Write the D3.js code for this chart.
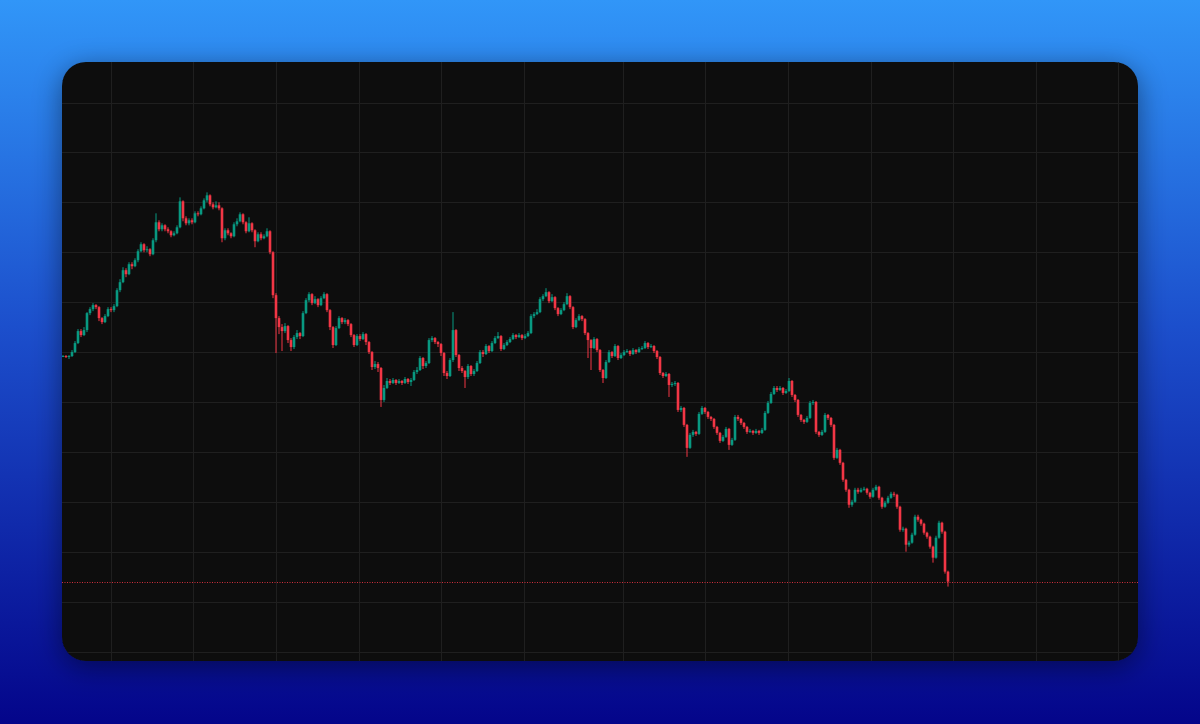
<!DOCTYPE html>
<html>
<head>
<meta charset="utf-8">
<script src="https://cdn.jsdelivr.net/npm/d3@7"></script>
<style>
  html, body { margin: 0; padding: 0; width: 1200px; height: 724px; overflow: hidden; }
  svg { display: block; }
</style>
</head>
<body>
<svg id="chart" width="1200" height="724"></svg>
<script>
// ---- data (arbitrary price units) ----
const opens = [69.6,69.6,69.5,69.6,70.0,70.9,72.1,71.7,72.2,73.9,74.3,74.7,74.5,73.4,73.0,73.6,74.3,74.2,74.6,76.2,77.0,78.2,77.8,78.8,78.6,79.2,80.1,80.8,80.2,80.3,79.8,81.2,83.0,82.3,82.7,82.3,82.1,81.7,81.9,82.5,85.1,83.4,82.9,83.2,83.0,83.9,83.8,84.4,85.2,85.7,84.8,84.5,84.7,84.4,81.4,82.2,81.9,81.6,82.8,83.1,83.8,83.0,82.1,82.9,82.2,81.1,81.8,81.4,81.6,82.1,80.0,75.7,73.4,72.5,72.1,72.6,71.2,70.5,71.5,71.9,71.6,73.9,75.2,75.8,74.9,75.3,74.7,75.4,75.8,74.2,72.5,70.7,72.4,73.4,73.0,73.2,72.8,71.7,70.7,71.6,71.3,71.8,71.0,70.0,68.5,68.8,68.4,65.2,66.4,67.1,66.9,67.2,66.9,67.1,66.9,67.3,67.0,67.2,68.0,68.2,69.4,68.6,68.9,71.2,71.4,71.0,70.8,69.9,67.9,67.6,69.2,72.2,69.7,68.4,68.1,67.5,68.6,67.8,68.1,68.9,70.0,69.8,70.6,70.1,70.9,71.4,71.6,70.3,70.7,71.0,71.3,71.7,71.5,71.7,71.4,71.6,71.9,73.6,73.8,74.0,75.3,75.6,76.0,75.1,75.5,74.4,73.8,74.2,74.8,75.6,74.5,72.5,73.2,73.6,73.3,71.9,71.2,70.4,71.3,70.2,68.2,67.4,69.0,70.0,69.6,70.6,69.4,69.7,70.0,70.1,69.8,70.2,70.0,70.3,70.4,70.9,70.5,70.6,70.1,69.5,67.9,67.6,67.8,66.7,66.8,66.9,64.2,64.4,62.7,60.4,61.7,62.0,61.8,63.8,64.4,64.0,63.5,63.3,62.5,61.9,61.1,61.5,62.3,60.7,61.2,63.5,63.3,62.9,62.5,62.0,62.1,61.9,62.1,61.9,62.2,63.9,64.9,65.8,66.4,66.2,66.4,65.9,66.1,67.1,65.7,65.2,63.7,63.2,63.0,63.4,64.9,65.0,62.0,61.7,62.0,63.7,63.4,62.7,59.4,60.2,58.9,57.2,56.2,54.7,55.0,56.2,56.0,56.2,56.3,55.9,55.5,56.2,56.5,55.4,54.5,54.9,55.4,55.8,55.7,54.5,52.2,52.3,50.7,50.9,51.7,53.5,53.2,52.8,51.9,51.5,50.5,49.4,51.4,52.9,52.0,48.0];
const highs = [69.7,69.7,69.7,70.2,71.1,72.3,72.3,72.5,74.0,74.5,74.9,74.8,74.6,73.5,73.8,74.5,74.5,74.8,76.4,77.3,78.5,78.4,79.0,79.0,79.4,80.3,81.0,80.9,80.6,80.4,81.4,83.9,83.2,82.9,82.8,82.5,82.2,82.1,82.7,85.5,85.2,83.6,83.4,83.4,84.1,84.1,84.6,85.4,86.0,85.8,85.0,85.1,85.0,84.5,82.4,82.4,82.0,83.0,83.4,84.0,83.9,83.1,83.5,83.0,82.3,82.0,82.0,81.8,82.4,82.2,80.1,75.9,73.6,72.8,72.9,72.7,71.4,71.7,72.2,72.0,74.1,75.4,76.0,75.9,75.6,75.4,75.6,76.0,75.9,74.3,72.6,72.6,73.6,73.5,73.4,73.3,72.9,71.8,71.8,71.8,72.0,71.9,71.1,70.1,69.1,69.0,68.5,66.7,67.4,67.3,67.4,67.3,67.3,67.2,67.5,67.4,67.4,68.2,68.5,69.6,69.5,69.1,71.4,71.6,71.5,71.1,70.9,70.0,68.1,69.4,74.0,72.3,69.8,68.6,68.2,68.8,68.7,68.3,69.1,70.2,70.2,70.8,70.7,71.1,71.6,72.0,71.7,70.9,71.2,71.5,71.9,71.8,71.9,71.8,71.8,72.1,73.8,74.0,74.3,75.5,75.8,76.4,76.1,75.8,75.6,74.5,74.4,75.0,75.9,75.7,74.6,73.4,73.8,73.7,73.4,72.0,71.3,71.5,71.4,70.3,68.3,69.2,70.2,70.1,70.8,70.7,69.9,70.2,70.3,70.2,70.4,70.3,70.5,70.6,71.1,71.0,70.8,70.7,70.2,69.6,68.0,68.0,67.9,67.0,67.1,67.0,64.6,64.5,62.8,61.9,62.2,62.1,64.0,64.6,64.5,64.1,63.6,63.4,62.6,62.0,61.7,62.5,62.4,61.4,63.7,63.7,63.4,63.0,62.6,62.3,62.2,62.3,62.2,62.4,64.1,65.1,66.0,66.6,66.6,66.6,66.5,66.3,67.4,67.2,65.8,65.3,63.8,63.3,63.6,65.1,65.2,65.1,62.1,62.2,63.9,63.8,63.5,62.8,60.4,60.3,59.0,57.3,56.3,55.2,56.4,56.4,56.4,56.5,56.4,56.0,56.4,56.7,56.6,55.5,55.1,55.6,56.0,56.0,55.8,54.6,52.5,52.4,51.1,51.9,53.7,53.7,53.3,52.9,52.0,51.6,50.6,51.6,53.1,53.0,52.1,48.1];
const lows = [69.5,69.4,69.3,69.5,69.9,70.8,71.5,71.6,72.0,73.7,74.1,74.3,73.1,72.8,72.9,73.5,74.0,74.0,74.5,76.0,76.9,77.5,77.7,78.3,78.5,79.0,80.0,80.0,80.0,79.6,79.7,81.0,82.1,82.1,82.1,81.9,81.5,81.6,81.8,82.4,83.1,82.7,82.7,82.8,82.9,83.6,83.7,84.3,85.0,84.6,84.3,84.4,84.2,81.0,81.2,81.7,81.4,81.5,82.6,83.0,82.8,81.9,82.0,82.0,80.5,81.0,81.2,81.3,81.5,79.8,75.4,69.9,71.8,70.1,71.9,70.9,70.1,70.3,71.3,71.3,71.5,73.8,75.0,74.7,74.8,74.5,74.6,75.3,74.0,72.2,70.4,70.6,72.3,72.8,72.8,72.6,71.5,70.5,70.6,71.1,71.2,70.7,69.8,68.2,68.3,68.0,64.5,65.0,66.3,66.7,66.8,66.7,66.8,66.7,66.8,66.8,66.6,67.1,67.8,68.1,68.3,68.4,68.8,71.0,70.8,70.5,69.6,67.6,67.3,67.5,69.0,69.5,68.1,67.9,66.4,67.3,67.6,67.6,68.0,68.8,69.5,69.7,69.9,70.0,70.8,71.3,70.1,70.2,70.6,70.9,71.2,71.3,71.4,71.2,71.3,71.5,71.8,73.4,73.7,73.9,75.1,75.5,74.9,75.0,74.2,73.6,73.7,74.1,74.7,74.3,72.3,72.4,73.1,73.1,71.7,69.4,68.2,70.3,70.0,68.0,66.9,67.3,68.9,69.4,69.5,69.2,69.3,69.6,69.9,69.6,69.7,69.8,69.9,70.2,70.3,70.3,70.4,69.9,69.3,67.7,67.4,67.5,65.5,66.5,66.6,64.0,64.0,62.5,59.5,60.3,61.5,61.6,61.7,63.7,63.8,63.3,63.1,62.3,61.7,60.9,61.0,61.4,60.2,60.6,61.1,63.1,62.7,62.3,61.8,61.9,61.7,61.8,61.7,61.8,62.1,63.8,64.8,65.7,66.0,66.1,65.7,65.8,66.0,65.5,65.0,63.5,63.0,62.8,62.9,63.3,64.7,61.8,61.5,61.6,61.9,63.2,62.5,59.2,59.3,58.7,57.0,56.0,54.4,54.5,54.9,55.8,55.9,56.1,55.7,55.3,55.4,56.1,55.2,54.3,54.4,54.8,55.3,55.5,54.3,52.0,52.0,50.0,50.5,50.8,51.6,53.0,52.6,51.7,51.3,50.3,48.9,49.3,51.3,51.8,47.8,46.5];
const closes = [69.6,69.5,69.6,70.0,70.9,72.1,71.7,72.2,73.9,74.3,74.7,74.5,73.4,73.0,73.6,74.3,74.2,74.6,76.2,77.0,78.2,77.8,78.8,78.6,79.2,80.1,80.8,80.2,80.3,79.8,81.2,83.0,82.3,82.7,82.3,82.1,81.7,81.9,82.5,85.1,83.4,82.9,83.2,83.0,83.9,83.8,84.4,85.2,85.7,84.8,84.5,84.7,84.4,81.4,82.2,81.9,81.6,82.8,83.1,83.8,83.0,82.1,82.9,82.2,81.1,81.8,81.4,81.6,82.1,80.0,75.7,73.4,72.5,72.1,72.6,71.2,70.5,71.5,71.9,71.6,73.9,75.2,75.8,74.9,75.3,74.7,75.4,75.8,74.2,72.5,70.7,72.4,73.4,73.0,73.2,72.8,71.7,70.7,71.6,71.3,71.8,71.0,70.0,68.5,68.8,68.4,65.2,66.4,67.1,66.9,67.2,66.9,67.1,66.9,67.3,67.0,67.2,68.0,68.2,69.4,68.6,68.9,71.2,71.4,71.0,70.8,69.9,67.9,67.6,69.2,72.2,69.7,68.4,68.1,67.5,68.6,67.8,68.1,68.9,70.0,69.8,70.6,70.1,70.9,71.4,71.6,70.3,70.7,71.0,71.3,71.7,71.5,71.7,71.4,71.6,71.9,73.6,73.8,74.0,75.3,75.6,76.0,75.1,75.5,74.4,73.8,74.2,74.8,75.6,74.5,72.5,73.2,73.6,73.3,71.9,71.2,70.4,71.3,70.2,68.2,67.4,69.0,70.0,69.6,70.6,69.4,69.7,70.0,70.1,69.8,70.2,70.0,70.3,70.4,70.9,70.5,70.6,70.1,69.5,67.9,67.6,67.8,66.7,66.8,66.9,64.2,64.4,62.7,60.4,61.7,62.0,61.8,63.8,64.4,64.0,63.5,63.3,62.5,61.9,61.1,61.5,62.3,60.7,61.2,63.5,63.3,62.9,62.5,62.0,62.1,61.9,62.1,61.9,62.2,63.9,64.9,65.8,66.4,66.2,66.4,65.9,66.1,67.1,65.7,65.2,63.7,63.2,63.0,63.4,64.9,65.0,62.0,61.7,62.0,63.7,63.4,62.7,59.4,60.2,58.9,57.2,56.2,54.7,55.0,56.2,56.0,56.2,56.3,55.9,55.5,56.2,56.5,55.4,54.5,54.9,55.4,55.8,55.7,54.5,52.2,52.3,50.7,50.9,51.7,53.5,53.2,52.8,51.9,51.5,50.5,49.4,51.4,52.9,52.0,48.0,47.0];

// time-grid positions (in bar-index units) and price-grid levels
const timeGridBars = [16, 43.3, 71, 98.7, 126, 153.7, 186.7, 214, 241.7, 269.3, 296.7, 324.3, 351.7];
const priceGridLevels = [40, 45, 50, 55, 60, 65, 70, 75, 80, 85, 90, 95];

// ---- layout ----
const W = 1200, H = 724;
const panel = { x: 62, y: 62, w: 1076, h: 599, r: 24 };
const upColor = "#089981", downColor = "#f23645";

const svg = d3.select("#chart");
const defs = svg.append("defs");

const bg = defs.append("linearGradient").attr("id", "bg")
  .attr("x1", 0).attr("y1", 0).attr("x2", 0).attr("y2", 1);
bg.append("stop").attr("offset", "0%").attr("stop-color", "#3196f8");
bg.append("stop").attr("offset", "45%").attr("stop-color", "#1c4fcc");
bg.append("stop").attr("offset", "100%").attr("stop-color", "#04058a");

const sh = defs.append("filter").attr("id", "shadow")
  .attr("x", "-10%").attr("y", "-10%").attr("width", "120%").attr("height", "125%");
sh.append("feDropShadow").attr("dx", 0).attr("dy", 6).attr("stdDeviation", 14)
  .attr("flood-color", "#000").attr("flood-opacity", 0.45);

defs.append("clipPath").attr("id", "panelClip")
  .append("rect").attr("x", panel.x).attr("y", panel.y)
  .attr("width", panel.w).attr("height", panel.h).attr("rx", panel.r);

svg.append("rect").attr("width", W).attr("height", H).attr("fill", "url(#bg)");
svg.append("rect").attr("x", panel.x).attr("y", panel.y)
  .attr("width", panel.w).attr("height", panel.h).attr("rx", panel.r)
  .attr("fill", "#111111").attr("filter", "url(#shadow)");

const g = svg.append("g").attr("clip-path", "url(#panelClip)");

// scales
const x = d3.scaleLinear().domain([0, 295]).range([63, 948]);
const y = d3.scaleLinear().domain([40, 95]).range([651.5, 102.5]);

// grid via axes
const gridColor = "#1f1f1f";
const gx = g.append("g").attr("transform", `translate(0,${panel.y})`)
  .call(d3.axisBottom(x).tickValues(timeGridBars).tickSize(panel.h).tickFormat(""));
gx.select(".domain").remove();
gx.selectAll(".tick line").attr("stroke", gridColor).attr("shape-rendering", "crispEdges");

const gy = g.append("g").attr("transform", `translate(${panel.x},0)`)
  .call(d3.axisRight(y).tickValues(priceGridLevels).tickSize(panel.w).tickFormat(""));
gy.select(".domain").remove();
gy.selectAll(".tick line").attr("stroke", gridColor).attr("shape-rendering", "crispEdges");

// candles
const data = closes.map((c, i) => ({ i, o: opens[i], h: highs[i], l: lows[i], c }));
const candles = g.append("g");
const bodyW = 2.6;

candles.selectAll("rect.wick").data(data).join("rect")
  .attr("class", "wick")
  .attr("x", d => x(d.i) - 0.5)
  .attr("width", 1)
  .attr("y", d => y(d.h))
  .attr("height", d => Math.max(1, y(d.l) - y(d.h)))
  .attr("fill", d => d.c >= d.o ? upColor : downColor);

candles.selectAll("rect.body").data(data).join("rect")
  .attr("class", "body")
  .attr("x", d => x(d.i) - bodyW / 2)
  .attr("width", bodyW)
  .attr("y", d => y(Math.max(d.o, d.c)))
  .attr("height", d => Math.max(1, Math.abs(y(d.o) - y(d.c))))
  .attr("fill", d => d.c >= d.o ? upColor : downColor);

// last price dotted line
const lastClose = closes[closes.length - 1];
g.append("line")
  .attr("x1", panel.x).attr("x2", panel.x + panel.w)
  .attr("y1", Math.round(y(lastClose)) + 0.5).attr("y2", Math.round(y(lastClose)) + 0.5)
  .attr("stroke", downColor).attr("stroke-width", 1)
  .attr("stroke-dasharray", "1,1.5").attr("opacity", 0.85);
</script>
</body>
</html>
